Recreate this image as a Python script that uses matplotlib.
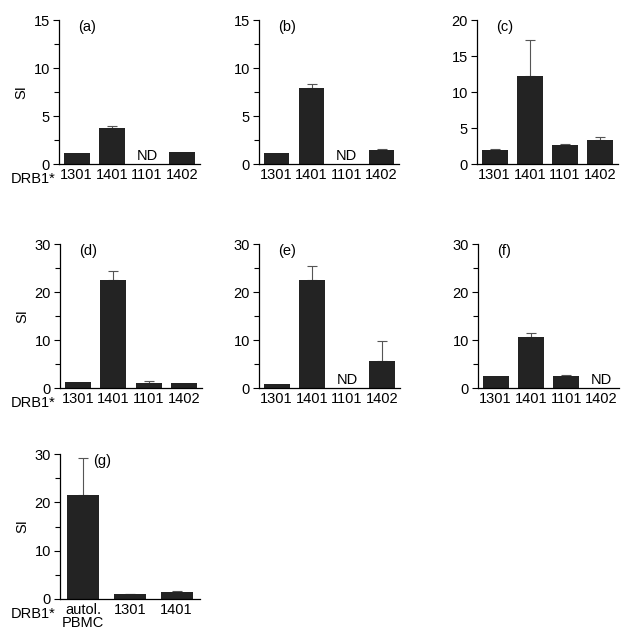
import numpy as np
import matplotlib
matplotlib.use("Agg")
import matplotlib.pyplot as plt
from matplotlib.ticker import MultipleLocator

plt.rcParams['font.family'] = ['Liberation Sans', 'DejaVu Sans']

alleles = ['1301', '1401', '1101', '1402']
alleles_g = ['autol.\nPBMC', '1301', '1401']
nd = np.nan

si_a = [1.1, 3.7, nd, 1.2]
err_a = [0.0, 0.25, nd, 0.0]
si_b = [1.1, 7.9, nd, 1.5]
err_b = [0.0, 0.4, nd, 0.05]
si_c = [2.0, 12.2, 2.6, 3.3]
err_c = [0.08, 5.0, 0.18, 0.4]
si_d = [1.2, 22.4, 1.1, 1.0]
err_d = [0.0, 2.0, 0.4, 0.0]
si_e = [0.8, 22.5, nd, 5.7]
err_e = [0.0, 3.0, nd, 4.0]
si_f = [2.4, 10.6, 2.5, nd]
err_f = [0.0, 0.8, 0.12, nd]
si_g = [21.6, 1.0, 1.5]
err_g = [7.6, 0.1, 0.1]

# (name, values, errors, categories, ymax, major, minor, rect in pixels l, r, top, bottom)
panels = [
    ('(a)', si_a, err_a, alleles, 15, 5, 2.5, (59, 200, 20, 164)),
    ('(b)', si_b, err_b, alleles, 15, 5, 2.5, (259, 399, 20, 164)),
    ('(c)', si_c, err_c, alleles, 20, 5, None, (477, 618, 20, 164)),
    ('(d)', si_d, err_d, alleles, 30, 10, 5, (60, 202, 244, 388)),
    ('(e)', si_e, err_e, alleles, 30, 10, 5, (259, 400, 244, 388)),
    ('(f)', si_f, err_f, alleles, 30, 10, 5, (478, 619, 244, 388)),
    ('(g)', si_g, err_g, alleles_g, 30, 10, 5, (60, 200, 454, 599)),
]

W, H = 630, 633
fig = plt.figure(figsize=(W / 100, H / 100), dpi=100)
bar_col = '#232323'
fs = 10.5

for i, (name, vals, errs, cats, ymax, major, minor, rect) in enumerate(panels):
    l, r, t, b = rect
    ax = fig.add_axes([l / W, 1 - b / H, (r - l) / W, (b - t) / H])
    x = np.arange(len(cats))
    vals = np.array(vals, dtype=float)
    errs = np.array(errs, dtype=float)
    width = 0.74 if len(cats) == 4 else 0.68
    ok = ~np.isnan(vals)
    ax.bar(x[ok], vals[ok], width=width, color=bar_col, linewidth=0, zorder=2)
    has_err = ok & (errs > 0)
    ax.errorbar(x[has_err], vals[has_err],
                yerr=[np.zeros(has_err.sum()), errs[has_err]],
                fmt='none', ecolor='#555555', elinewidth=0.8, capsize=3.5,
                capthick=0.8, zorder=1)
    for xi in x[~ok]:
        ax.text(xi, ymax * 0.005, 'ND', ha='center', va='bottom', fontsize=fs)

    ax.set_xlim(-0.5, len(cats) - 0.5)
    ax.set_ylim(0, ymax)
    ax.set_xticks(x)
    ax.set_xticklabels(cats, fontsize=fs, linespacing=0.9)
    ax.yaxis.set_major_locator(MultipleLocator(major))
    if minor:
        ax.yaxis.set_minor_locator(MultipleLocator(minor))
    ax.tick_params(axis='x', length=0, pad=3)
    ax.tick_params(axis='y', which='major', length=4.5, width=0.8, pad=2, labelsize=fs)
    ax.tick_params(axis='y', which='minor', length=3.5, width=0.8)
    for s in ['top', 'right']:
        ax.spines[s].set_visible(False)
    for s in ['left', 'bottom']:
        ax.spines[s].set_linewidth(0.9)
    ax.patch.set_alpha(0)

    lx = 0.24 if name == '(g)' else 0.135
    ax.text(lx, 0.95, name, transform=ax.transAxes, ha='left', va='center', fontsize=fs)

    if i in (0, 3, 6):
        ax.set_ylabel('SI', fontsize=fs, labelpad=4)
        fig.text(11 / W, 1 - (b + 15) / H, 'DRB1*', ha='left', va='center', fontsize=fs)

fig.savefig('out.png', dpi=100)
